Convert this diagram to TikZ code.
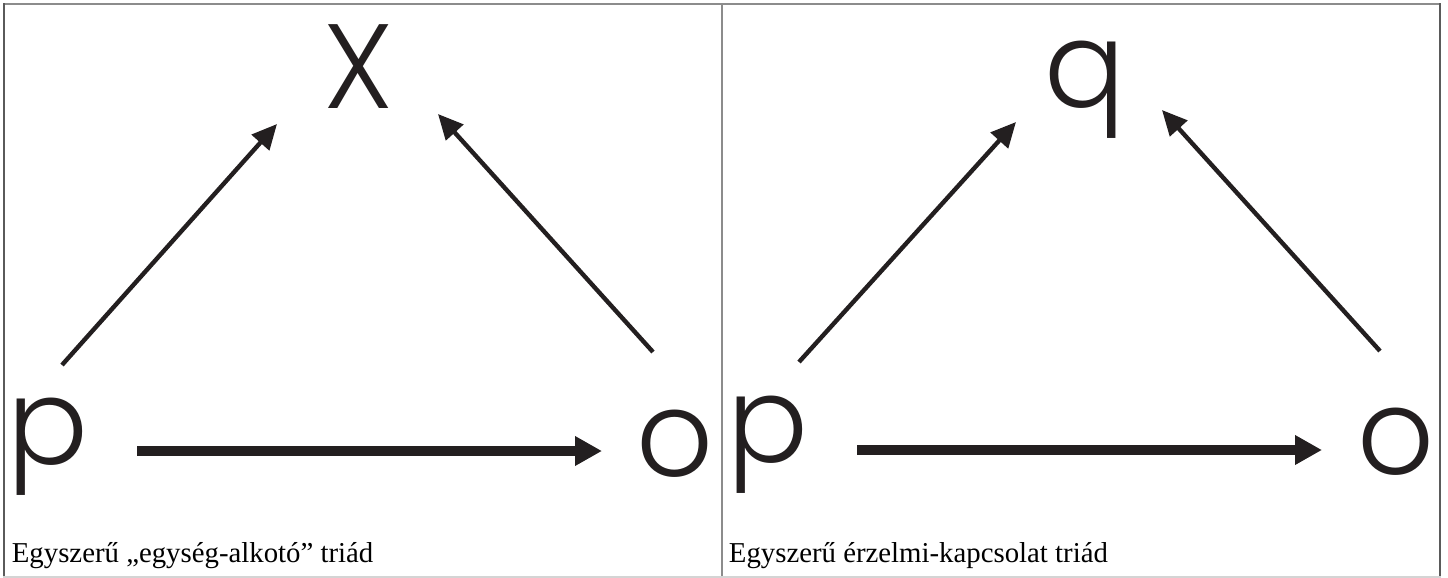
\documentclass[tikz,border=0pt]{standalone}
\usepackage{fontspec}
\setmainfont{Liberation Serif}
\newfontfamily\letterfont{Poppins Light}
\usetikzlibrary{arrows.meta}
\definecolor{ink}{HTML}{231F20}
\definecolor{rulegray}{HTML}{8C8C8C}
\definecolor{ruledark}{HTML}{5A5A5A}
\definecolor{rulelight}{HTML}{D4D4D4}
\begin{document}
\begin{tikzpicture}[x=0.5pt,y=-0.5pt,
  letter/.style={inner sep=0pt, anchor=base, text=ink,
    font=\letterfont\fontsize{60}{72}\selectfont},
  caption/.style={inner sep=0pt, anchor=base west,
    font=\fontsize{14.4}{17}\selectfont},
  thinarrow/.style={draw=ink, line width=2.2pt,
    -{Triangle[length=12.5pt,width=11.5pt]}},
  thickarrow/.style={draw=ink, line width=5pt,
    -{Triangle[length=13.5pt,width=14pt]}}]
\useasboundingbox (0,0) rectangle (1448,578);

% table frame and cell divider
\draw[rulegray, line width=1pt] (3,3.5) -- (1441,3.5);
\draw[ruledark, line width=1pt] (3.5,3) -- (3.5,577);
\draw[ruledark, line width=1pt] (1440,3) -- (1440,577);
\draw[rulelight, line width=1pt] (3,576.5) -- (1441,576.5);
\draw[rulegray, line width=1pt] (722,4) -- (722,576);

% left cell: unit-forming triad
\node[letter] (Ltop) at (359,108) {X};
\node[letter] (Lp) at (48,464) {p};
\node[letter] (Lo) at (675,476) {o};
\coordinate (Lpa) at (62,365);
\coordinate (Lpb) at (277,124);
\coordinate (Loa) at (653,352);
\coordinate (Lob) at (438,114);
\coordinate (Lha) at (137,451);
\coordinate (Lhb) at (602,451);
\draw[thinarrow] (Lpa) -- (Lpb);
\draw[thinarrow] (Loa) -- (Lob);
\draw[thickarrow] (Lha) -- (Lhb);
\node[caption] (Lcap) at (11.5,562) {Egyszerű „egység-alkotó” triád};

% right cell: sentiment-relation triad
\node[letter] (Rtop) at (1084.5,107) {q};
\node[letter] (Rp) at (768,462) {p};
\node[letter] (Ro) at (1396,474) {o};
\coordinate (Rpa) at (799,362);
\coordinate (Rpb) at (1016,122);
\coordinate (Roa) at (1380,351);
\coordinate (Rob) at (1162,110);
\coordinate (Rha) at (857,450);
\coordinate (Rhb) at (1322,450);
\draw[thinarrow] (Rpa) -- (Rpb);
\draw[thinarrow] (Roa) -- (Rob);
\draw[thickarrow] (Rha) -- (Rhb);
\node[caption] (Rcap) at (728.5,562) {Egyszerű érzelmi-kapcsolat triád};
\end{tikzpicture}
\end{document}
